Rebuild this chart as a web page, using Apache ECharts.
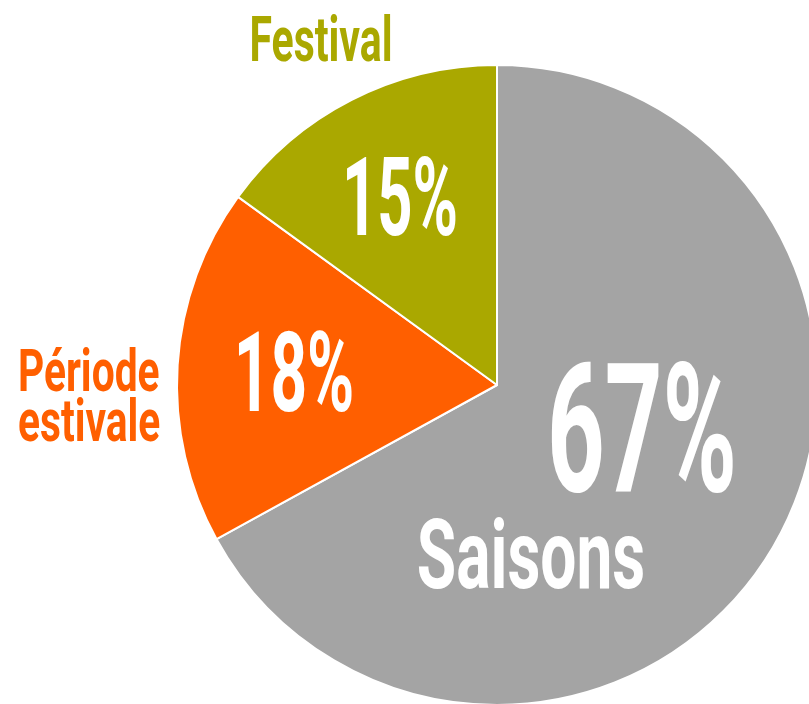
<!DOCTYPE html>
<html>
<head>
<meta charset="utf-8">
<script src="https://cdn.jsdelivr.net/npm/echarts@6/dist/echarts.min.js"></script>
<style>
html, body { margin: 0; padding: 0; background: #fff; }
#pie { width: 809px; height: 704px; }
</style>
</head>
<body>
<div id="pie"></div>
<script>
// parts of the pie, clockwise from the top
var categories = ['Saisons', 'Période estivale', 'Festival'];
var values = [67, 18, 15];
var colors = ['#a4a4a4', '#ff5f00', '#aaa800'];

var myChart = echarts.init(document.getElementById('pie'));

var font = 'Roboto, "DejaVu Sans", sans-serif';

function txt(str, x, y, size, color, sx, align) {
	return {
		type: 'text',
		x: x,
		y: y,
		scaleX: sx,
		z: 100,
		silent: true,
		style: {
			text: str,
			fill: color,
			font: 'bold ' + size + 'px ' + font,
			align: align || 'center',
			verticalAlign: 'middle',
			lineHeight: 50
		}
	};
}

var option = {
	backgroundColor: '#fff',
	animation: false,
	color: colors,
	series: [{
		type: 'pie',
		center: [497, 385],
		radius: 320,
		startAngle: 90,
		clockwise: true,
		label: { show: false },
		labelLine: { show: false },
		itemStyle: {
			borderColor: '#fff',
			borderWidth: 2
		},
		data: categories.map(function(c, i) {
			return { name: c, value: values[i] };
		})
	}],
	graphic: [
		// percentages
		txt(values[0] + '%', 642, 446, 180, '#fff', 0.56),
		txt(values[1] + '%', 294, 383, 112, '#fff', 0.57),
		txt(values[2] + '%', 400, 207, 110, '#fff', 0.56),
		// names
		txt(categories[0], 531, 564, 97, '#fff', 0.66),
		txt(categories[2], 321, 45, 63, colors[2], 0.65),
		txt(categories[1].replace(' ', '\n'), 18, 401, 59, colors[1], 0.69, 'left')
	]
};
myChart.setOption(option);
</script>
</body>
</html>
